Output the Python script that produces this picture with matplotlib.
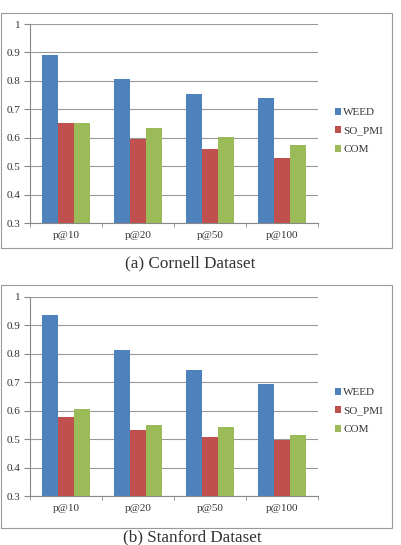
import matplotlib
matplotlib.use("Agg")
import matplotlib.pyplot as plt
import numpy as np
from matplotlib.patches import Rectangle

categories = ["p@10", "p@20", "p@50", "p@100"]
series_names = ["WEED", "SO_PMI", "COM"]
cornell_weed = [0.89, 0.805, 0.753, 0.738]
cornell_sopmi = [0.651, 0.597, 0.562, 0.527]
cornell_com = [0.651, 0.634, 0.601, 0.573]
stanford_weed = [0.935, 0.813, 0.744, 0.695]
stanford_sopmi = [0.578, 0.532, 0.506, 0.496]
stanford_com = [0.605, 0.549, 0.544, 0.515]
yticks = [0.3, 0.4, 0.5, 0.6, 0.7, 0.8, 0.9, 1.0]
ytick_labels = ["0.3", "0.4", "0.5", "0.6", "0.7", "0.8", "0.9", "1"]
colors = ["#4F81BD", "#C0504D", "#9BBB59"]

plt.rcParams['font.family'] = ['Liberation Serif', 'DejaVu Serif']

W, H = 401, 545
fig = plt.figure(figsize=(W/100, H/100), dpi=100)

def px_axes(x0, y0, x1, y1):
    return fig.add_axes([x0/W, 1 - y1/H, (x1-x0)/W, (y1-y0)/H])

def draw(ax, data, leg_y):
    x = np.arange(len(categories))
    bw = 0.222
    bars = []
    for i, (vals, c) in enumerate(zip(data, colors)):
        b = ax.bar(x + (i-1)*bw, np.array(vals) - 0.3, bw, bottom=0.3, color=c, zorder=3, label=series_names[i])
        bars.append(b)
    ax.set_ylim(0.3, 1.0)
    ax.set_xlim(-0.5, len(categories)-0.5)
    ax.set_yticks(yticks)
    ax.set_yticklabels(ytick_labels, fontsize=8, color="#333333")
    ax.yaxis.grid(True, color="#999999", linewidth=0.8, zorder=0)
    ax.set_xticks(x)
    ax.set_xticklabels(categories, fontsize=8, color="#333333")
    ax.set_xticks(np.arange(-0.5, len(categories)), minor=True)
    ax.tick_params(axis='x', which='major', length=0, pad=6)
    ax.tick_params(axis='x', which='minor', length=3, color="#888888", direction='out')
    ax.tick_params(axis='y', length=4, color="#888888", direction='out', pad=3)
    for s in ['top', 'right']:
        ax.spines[s].set_visible(False)
    for s in ['left', 'bottom']:
        ax.spines[s].set_color("#888888")
        ax.spines[s].set_linewidth(0.8)
    leg = fig.legend(handles=bars, labels=series_names, loc='center left',
                     bbox_to_anchor=(329/W, 1 - leg_y/H), frameon=False,
                     fontsize=8, handlelength=0.6, handleheight=0.6,
                     handletextpad=0.2, labelspacing=0.8, borderpad=0)
    for t in leg.get_texts():
        t.set_color("#333333")

ax1 = px_axes(30, 24, 318, 223)
draw(ax1, [cornell_weed, cornell_sopmi, cornell_com], 131)
ax2 = px_axes(30, 297, 318, 496)
draw(ax2, [stanford_weed, stanford_sopmi, stanford_com], 411)

for (y0, y1) in [(13, 248), (285, 528)]:
    fig.patches.append(Rectangle((1/W, 1 - y1/H), 391/W, (y1-y0)/H,
                                 transform=fig.transFigure, fill=False,
                                 edgecolor="#999999", linewidth=0.8))

fig.text(190/W, 1 - 263/H, "(a) Cornell Dataset", ha='center', va='center', fontsize=12.3, color="#333333")
fig.text(192/W, 1 - 537/H, "(b) Stanford Dataset", ha='center', va='center', fontsize=12.3, color="#333333")

fig.savefig("out.png", dpi=100)
